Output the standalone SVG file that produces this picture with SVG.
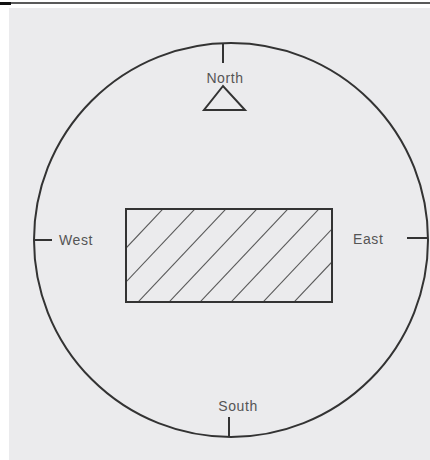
<svg xmlns="http://www.w3.org/2000/svg" width="430" height="460" viewBox="0 0 430 460">
<defs>
<style>
.lbl{font-family:"Liberation Sans",Arial,sans-serif;font-size:14px;letter-spacing:0.6px;fill:#555}
.ink{fill:none;stroke:#333;stroke-width:2}
.hatch{stroke:#5a5a5a;stroke-width:1.1}
</style>
<clipPath id="rc"><rect x="126" y="209" width="206" height="93"/></clipPath>
</defs>
<rect width="430" height="460" fill="#ffffff"/>
<rect x="9" y="8" width="421" height="452" fill="#ebebed"/>
<line x1="0" y1="3" x2="430" y2="3" stroke="#222" stroke-width="1.5"/>
<line x1="0" y1="3.5" x2="11" y2="3.5" stroke="#111" stroke-width="3"/>
<g id="compass">
<circle class="ink" cx="231" cy="240" r="197"/>
</g>
<g id="north">
<line class="ink" x1="223" y1="43" x2="223" y2="63" stroke-width="1.5"/>
<text class="lbl" x="225" y="83" text-anchor="middle">North</text>
<polygon class="ink" points="223,86 204,110 245,110" stroke-width="2.2"/>
</g>
<g id="west">
<line class="ink" x1="34" y1="240" x2="52" y2="240" stroke-width="1.5"/>
<text class="lbl" x="59" y="245">West</text>
</g>
<g id="east">
<line class="ink" x1="407" y1="238" x2="428" y2="238" stroke-width="1.5"/>
<text class="lbl" x="353" y="244">East</text>
</g>
<g id="south">
<line class="ink" x1="229" y1="417" x2="229" y2="437" stroke-width="1.5"/>
<text class="lbl" x="238" y="411" text-anchor="middle">South</text>
</g>
<g id="block">
<g clip-path="url(#rc)">
<line class="hatch" x1="60" y1="318" x2="178" y2="193"/>
<line class="hatch" x1="92" y1="318" x2="210" y2="193"/>
<line class="hatch" x1="123" y1="318" x2="241" y2="193"/>
<line class="hatch" x1="154" y1="318" x2="272" y2="193"/>
<line class="hatch" x1="185" y1="318" x2="303" y2="193"/>
<line class="hatch" x1="216" y1="318" x2="334" y2="193"/>
<line class="hatch" x1="248" y1="318" x2="366" y2="193"/>
<line class="hatch" x1="279" y1="318" x2="397" y2="193"/>
</g>
<rect class="ink" x="126" y="209" width="206" height="93" stroke-width="2.5"/>
</g>
</svg>
